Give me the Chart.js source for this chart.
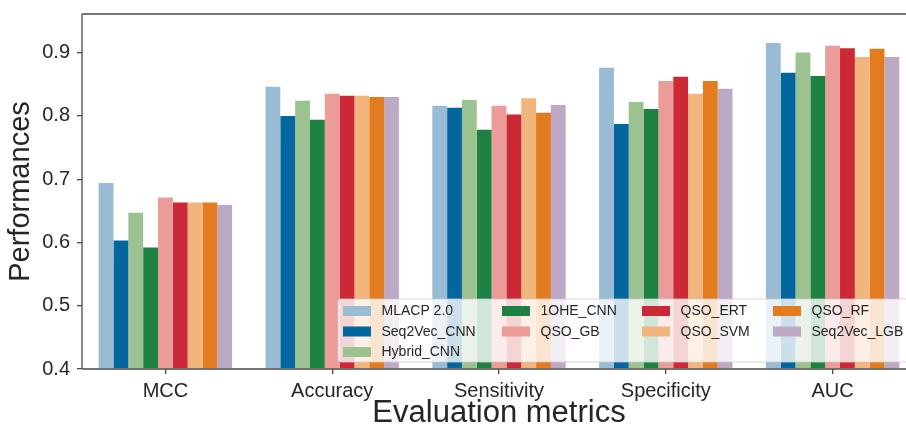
<!DOCTYPE html>
<html>
<head>
<meta charset="utf-8">
<script src="https://cdn.jsdelivr.net/npm/chart.js@4.4.1/dist/chart.umd.min.js"></script>
<style>
  html, body { margin: 0; padding: 0; background: #ffffff; overflow: hidden; }
  #wrap { width: 920px; height: 429px; }
</style>
</head>
<body>
<div id="wrap"><canvas id="c" width="920" height="429"></canvas></div>
<script>
// Evaluation metrics on the x axis
const categories = ['MCC', 'Accuracy', 'Sensitivity', 'Specificity', 'AUC'];

// Scores of each predictor, in the order of the categories above
const mlacp      = [0.694, 0.846, 0.816, 0.876, 0.915];
const seq2vecCnn = [0.603, 0.800, 0.813, 0.787, 0.868];
const hybridCnn  = [0.647, 0.824, 0.825, 0.822, 0.900];
const oheCnn     = [0.592, 0.794, 0.778, 0.811, 0.863];
const qsoGb      = [0.671, 0.835, 0.816, 0.855, 0.911];
const qsoErt     = [0.663, 0.832, 0.802, 0.862, 0.907];
const qsoSvm     = [0.663, 0.832, 0.828, 0.835, 0.893];
const qsoRf      = [0.663, 0.830, 0.805, 0.855, 0.906];
const seq2vecLgb = [0.659, 0.830, 0.817, 0.843, 0.893];

const seriesNames  = ['MLACP 2.0', 'Seq2Vec_CNN', 'Hybrid_CNN', '1OHE_CNN', 'QSO_GB', 'QSO_ERT', 'QSO_SVM', 'QSO_RF', 'Seq2Vec_LGB'];
const seriesValues = [mlacp, seq2vecCnn, hybridCnn, oheCnn, qsoGb, qsoErt, qsoSvm, qsoRf, seq2vecLgb];
const seriesColors = ['#99bcd4', '#04669f', '#9cc292', '#1c8141', '#eb9b98', '#cc2836', '#f2b57e', '#e27c1e', '#bcaac5'];

// y axis range and tick labels
const yMin = 0.4;
const yMax = 0.961;
const yTickValues = [0.4, 0.5, 0.6, 0.7, 0.8, 0.9];
const yTickLabels = ['0.4', '0.5', '0.6', '0.7', '0.8', '0.9'];

// legend layout: matplotlib-style, 4 columns filled column by column
const legendColumns = [[0, 1, 2], [3, 4], [5, 6], [7, 8]];

const FONT = "'Liberation Sans', Arial, Helvetica, sans-serif";
const INK = '#262626';
const SPINE = '#4a4a4a';

Chart.defaults.font.family = FONT;
Chart.defaults.color = INK;

const spines = {
  id: 'spines',
  afterDatasetsDraw(chart) {
    const { ctx, chartArea: a } = chart;
    ctx.save();
    ctx.strokeStyle = SPINE;
    ctx.lineWidth = 1.3;
    ctx.beginPath();
    ctx.moveTo(a.left, a.top);
    ctx.lineTo(a.left, a.bottom);
    ctx.moveTo(a.left, a.bottom);
    ctx.lineTo(a.right, a.bottom);
    ctx.moveTo(a.left, a.top);
    ctx.lineTo(a.right, a.top);
    ctx.stroke();
    ctx.restore();
  }
};

const boxLegend = {
  id: 'boxLegend',
  afterDraw(chart) {
    const { ctx, chartArea: a } = chart;
    const right = a.right - 7;
    const bottom = a.bottom - 7;
    const width = 571;
    const height = 63;
    const left = right - width;
    const top = bottom - height;
    ctx.save();
    ctx.beginPath();
    if (ctx.roundRect) ctx.roundRect(left, top, width, height, 3);
    else ctx.rect(left, top, width, height);
    ctx.fillStyle = 'rgba(255,255,255,0.8)';
    ctx.fill();
    ctx.strokeStyle = 'rgba(204,204,204,0.8)';
    ctx.lineWidth = 1;
    ctx.stroke();

    const colOffsets = [5, 164, 304, 435];
    const rowOffsets = [12, 32.5, 53];
    ctx.font = '14px ' + FONT;
    ctx.textBaseline = 'middle';
    ctx.textAlign = 'left';
    legendColumns.forEach((col, ci) => {
      col.forEach((si, ri) => {
        const x = left + colOffsets[ci];
        const y = top + rowOffsets[ri];
        ctx.fillStyle = seriesColors[si];
        ctx.fillRect(x, y - 5, 28, 10);
        ctx.fillStyle = INK;
        ctx.fillText(seriesNames[si], x + 38.5, y + 0.5);
      });
    });
    ctx.restore();
  }
};

new Chart(document.getElementById('c'), {
  type: 'bar',
  data: {
    labels: categories,
    datasets: seriesNames.map((name, i) => ({
      label: name,
      data: seriesValues[i],
      backgroundColor: seriesColors[i],
      borderWidth: 0,
      base: yMin,
      barPercentage: 1.0,
      categoryPercentage: 0.8
    }))
  },
  options: {
    responsive: false,
    animation: false,
    devicePixelRatio: 1,
    layout: { padding: { left: 0, right: 4, top: 14, bottom: 0 } },
    plugins: {
      legend: { display: false },
      tooltip: { enabled: false }
    },
    scales: {
      x: {
        type: 'category',
        offset: true,
        grid: {
          display: true,
          offset: false,
          drawOnChartArea: false,
          drawTicks: true,
          tickLength: 5,
          color: SPINE,
          lineWidth: 1.3
        },
        border: { display: false },
        ticks: {
          font: { size: 20 },
          color: INK,
          padding: 5,
          maxRotation: 0,
          autoSkip: false
        },
        title: {
          display: true,
          text: 'Evaluation metrics',
          font: { size: 31 },
          color: INK,
          padding: { top: 0, bottom: -3 }
        },
        afterFit(scale) {
          scale.height = 60;
          scale.paddingLeft = 0;
          scale.paddingRight = 0;
        }
      },
      y: {
        min: yMin,
        max: yMax,
        grid: {
          display: true,
          drawOnChartArea: false,
          drawTicks: true,
          tickLength: 5,
          color: SPINE,
          lineWidth: 1.3
        },
        border: { display: false },
        ticks: {
          font: { size: 20 },
          color: INK,
          padding: 7,
          callback(value) {
            const i = yTickValues.findIndex(v => Math.abs(v - value) < 1e-9);
            return i >= 0 ? yTickLabels[i] : '';
          }
        },
        afterBuildTicks(scale) {
          scale.ticks = yTickValues.map(v => ({ value: v }));
        },
        title: {
          display: true,
          text: 'Performances',
          font: { size: 29 },
          color: INK,
          padding: { top: 4, bottom: 0 }
        },
        afterFit(scale) {
          scale.width = 82;
          scale.paddingTop = 0;
          scale.paddingBottom = 0;
        }
      }
    }
  },
  plugins: [spines, boxLegend]
});
</script>
</body>
</html>
